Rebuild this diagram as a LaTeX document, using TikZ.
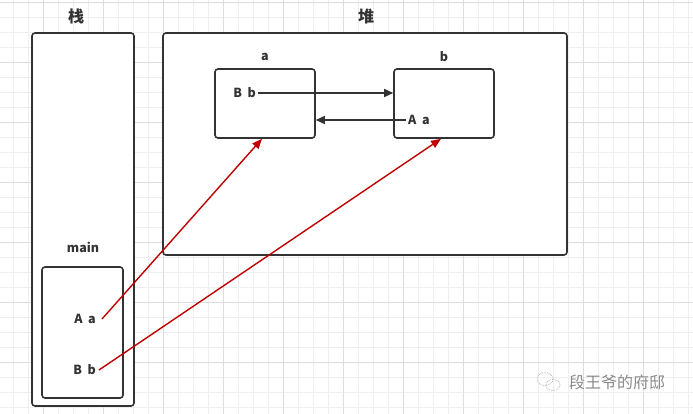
\documentclass[tikz,border=0pt]{standalone}
\usepackage{fontspec}
\setmainfont{Noto Sans CJK SC}
\usetikzlibrary{arrows.meta}
\definecolor{gridminor}{HTML}{EEEEEE}
\definecolor{gridmajor}{HTML}{DDDDDD}
\definecolor{ink}{HTML}{333333}
\definecolor{redline}{HTML}{C00000}
\definecolor{wm}{HTML}{8A8A8A}
\tikzset{
  box/.style={draw=ink, line width=1.6pt, rounded corners=3pt, fill=white, inner sep=0pt},
  title/.style={font=\fontsize{16}{16}\selectfont\bfseries, text=ink, inner sep=0pt},
  lab/.style={font=\fontsize{12.5}{12.5}\selectfont\bfseries, text=ink, inner sep=0pt},
  blackarrow/.style={draw=ink, line width=1.6pt, -{Triangle[length=9pt,width=8pt]}},
  redarrow/.style={draw=redline, line width=1.4pt, -{Triangle[length=10pt,width=8pt]}},
}
\begin{document}
\begin{tikzpicture}[x=1pt,y=-1pt]
\useasboundingbox (0,0) rectangle (693,414);
\fill[white] (0,0) rectangle (693,414);
% grid
\foreach \gx in {13,28,...,693} \draw[gridminor, line width=0.6pt] (\gx,0) -- (\gx,414);
\foreach \gy in {2,17,...,414} \draw[gridminor, line width=0.6pt] (0,\gy) -- (693,\gy);
\foreach \gx in {43,103,...,693} \draw[gridmajor, line width=0.7pt] (\gx,0) -- (\gx,414);
\foreach \gy in {2,62,...,414} \draw[gridmajor, line width=0.7pt] (0,\gy) -- (693,\gy);
% titles
\node[title] (tstack) at (76,16) {栈};
\node[title] (theap) at (366,16) {堆};
% containers
\node[box, minimum width=102pt, minimum height=373pt] (stack) at (83,219.5) {};
\node[box, minimum width=404pt, minimum height=222pt] (heap) at (365,144) {};
% heap objects
\node[lab] (la) at (265,57) {a};
\node[lab] (lb) at (444,57) {b};
\node[box, minimum width=100pt, minimum height=69pt] (boxa) at (265,103.5) {};
\node[box, minimum width=100pt, minimum height=69pt] (boxb) at (444,103.5) {};
\node[lab, anchor=east] (abb) at (256,93) {B\hspace{0.45em}b};
\node[lab, anchor=west] (baa) at (408,120) {A\hspace{0.45em}a};
\draw[blackarrow] ([xshift=2pt]abb.east) -- (boxb.west |- abb.east);
\draw[blackarrow] ([xshift=-2pt]baa.west) -- (boxa.east |- baa.west);
% main frame
\node[lab] (lmain) at (83,247) {main};
\node[box, minimum width=81pt, minimum height=131pt] (mainbox) at (82.5,332.5) {};
\node[lab, anchor=east] (maa) at (96,319) {A\hspace{0.45em}a};
\node[lab, anchor=east] (mbb) at (96,370) {B\hspace{0.45em}b};
\draw[redarrow] ([xshift=6pt]maa.east) -- ([xshift=-3pt]boxa.south);
\draw[redarrow] ([xshift=3pt]mbb.east) -- ([xshift=-3pt]boxb.south);
% watermark
\draw[wm!70, densely dotted, line width=0.7pt] (545,379) ellipse [x radius=8pt, y radius=6.5pt];
\draw[wm!70, densely dotted, line width=0.7pt] (553,385) ellipse [x radius=7pt, y radius=5.5pt];
\node[font=\fontsize{16}{16}\selectfont, text=wm, inner sep=0pt, anchor=west] (wmtext) at (569,382) {段王爷的府邸};
\end{tikzpicture}
\end{document}
